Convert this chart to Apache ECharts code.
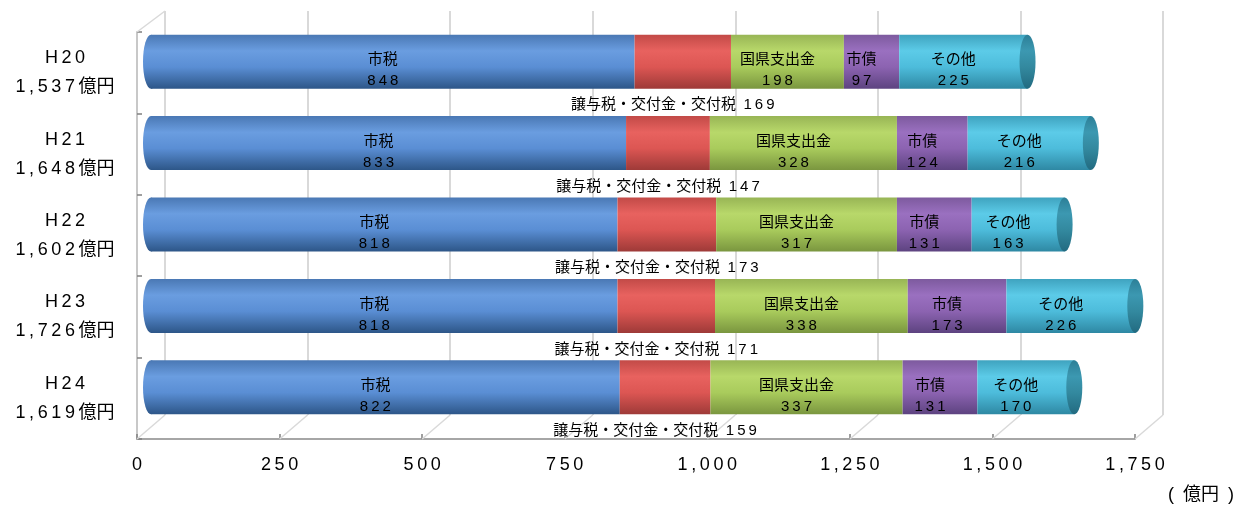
<!DOCTYPE html>
<html>
<head>
<meta charset="utf-8">
<script src="https://cdn.jsdelivr.net/npm/echarts@6/dist/echarts.min.js"></script>
<style>
  html, body { margin: 0; padding: 0; background: #fff; }
  #main { width: 1237px; height: 512px; }
</style>
</head>
<body>
<div id="main"></div>
<script>
var categories = ['H20', 'H21', 'H22', 'H23', 'H24'];
var shizei = [848, 833, 818, 818, 822];      // 市税
var jouyo = [169, 147, 173, 171, 159];       // 譲与税・交付金・交付税
var kokken = [198, 328, 317, 338, 337];      // 国県支出金
var shisai = [97, 124, 131, 173, 131];       // 市債
var sonota = [225, 216, 163, 226, 170];      // その他
var xTicks = [0, 250, 500, 750, 1000, 1250, 1500, 1750];

var FONT = "'Liberation Sans', 'Noto Sans CJK JP', sans-serif";

// letter spacing imitation with thin spaces
function spaced(s) {
    return String(s).split('').join('\u2009');
}
function fmt(n) {
    return n.toLocaleString('en-US');
}

var totals = categories.map(function (c, i) {
    return shizei[i] + jouyo[i] + kokken[i] + shisai[i] + sonota[i];
});

function cyl(top, light, mid, dark) {
    return {
        type: 'linear', x: 0, y: 0, x2: 0, y2: 1,
        colorStops: [
            { offset: 0, color: top },
            { offset: 0.3, color: light },
            { offset: 0.6, color: mid },
            { offset: 1, color: dark }
        ]
    };
}

var cBlue = cyl('#4a78b4', '#6a9de0', '#5a8ed4', '#2d5688');
var cRed = cyl('#c24a47', '#e8625f', '#dc5653', '#9e3a38');
var cGreen = cyl('#98b555', '#b8d86a', '#a9cb5c', '#7a963f');
var cPurple = cyl('#7d5a9e', '#9a70c0', '#8c63b1', '#5d4380');
var cCyan = cyl('#3fa3bf', '#5ccbe8', '#4dbcdb', '#2e88a3');
var cCap = cyl('#2c7f97', '#3c98b1', '#33899f', '#226a80');

function insideLabel(name) {
    return {
        show: true,
        position: 'inside',
        offset: [-10, 9],
        color: '#000',
        fontFamily: FONT,
        fontSize: 15,
        lineHeight: 21,
        formatter: function (p) {
            return name + '\n' + spaced(p.value);
        }
    };
}

function barSeries(name, data, color, label) {
    return {
        name: name,
        type: 'bar',
        stack: 'total',
        xAxisIndex: 2,
        yAxisIndex: 2,
        barWidth: 54,
        z: 3,
        itemStyle: { color: color },
        label: label,
        data: data
    };
}

var myChart = echarts.init(document.getElementById('main'));

var option = {
    animation: false,
    backgroundColor: '#fff',
    grid: [
        { left: 165, top: 11, width: 998, height: 404 },   // back wall
        { left: 137, top: 32, width: 998, height: 407 },   // front floor
        { left: 151, top: 21, width: 998, height: 407 }    // bars
    ],
    xAxis: [
        {
            gridIndex: 0, type: 'value', min: xTicks[0], max: xTicks[xTicks.length - 1],
            interval: xTicks[1] - xTicks[0],
            axisLine: { show: false }, axisTick: { show: false }, axisLabel: { show: false },
            splitLine: { show: true, lineStyle: { color: '#d9d9d9', width: 2 } }
        },
        {
            gridIndex: 1, type: 'value', min: xTicks[0], max: xTicks[xTicks.length - 1],
            interval: xTicks[1] - xTicks[0],
            axisLine: { show: true, lineStyle: { color: '#a6a6a6', width: 2 } },
            axisTick: { show: true, inside: true, length: 5, lineStyle: { color: '#808080', width: 1.5 } },
            splitLine: { show: false },
            axisLabel: {
                color: '#000', fontFamily: FONT, fontSize: 18, margin: 17,
                formatter: function (v) { return spaced(fmt(v)); }
            }
        },
        {
            gridIndex: 2, type: 'value', min: xTicks[0], max: xTicks[xTicks.length - 1],
            show: false, splitLine: { show: false }
        }
    ],
    yAxis: [
        { gridIndex: 0, type: 'category', data: categories, inverse: true, show: false },
        {
            gridIndex: 1, type: 'category', data: categories, inverse: true,
            axisLine: { show: true, lineStyle: { color: '#c8c8c8', width: 2 } },
            axisTick: { show: true, inside: true, length: 5, lineStyle: { color: '#808080', width: 1.5 } },
            axisLabel: {
                color: '#000', fontFamily: FONT, fontSize: 18, lineHeight: 29, margin: 72,
                align: 'center',
                formatter: function (v, i) {
                    return spaced(v) + '\n' + spaced(fmt(totals[i])) + '\u2009億円';
                }
            }
        },
        { gridIndex: 2, type: 'category', data: categories, inverse: true, show: false }
    ],
    series: [
        {
            type: 'custom',
            xAxisIndex: 1,
            yAxisIndex: 1,
            z: 1,
            silent: true,
            clip: false,
            encode: { x: 0, y: 1 },
            data: xTicks.map(function (t) { return [t, 0]; }),
            renderItem: function (params, api) {
                var cs = params.coordSys;
                var x = api.coord([api.value(0), 0])[0];
                var b = cs.y + cs.height;
                var kids = [{
                    type: 'line',
                    shape: { x1: x, y1: b, x2: x + 28, y2: b - 24 },
                    style: { stroke: '#d9d9d9', lineWidth: 1.5 }
                }];
                if (params.dataIndex === 0) {
                    kids.push({
                        type: 'line',
                        shape: { x1: cs.x, y1: cs.y, x2: cs.x + 28, y2: cs.y - 21 },
                        style: { stroke: '#d9d9d9', lineWidth: 1.5 }
                    });
                }
                return { type: 'group', children: kids };
            }
        },
        {
            // rounded left end of the cylinders
            type: 'scatter',
            xAxisIndex: 2,
            yAxisIndex: 2,
            z: 2,
            silent: true,
            symbol: 'circle',
            symbolSize: [16, 54],
            itemStyle: { color: cBlue, opacity: 1 },
            data: categories.map(function (c, i) { return [0, i]; })
        },
        barSeries('市税', shizei, cBlue, insideLabel('市税')),
        barSeries('譲与税・交付金・交付税', jouyo, cRed, {
            show: true,
            position: 'bottom',
            distance: 9,
            offset: [-10, 0],
            color: '#000',
            fontFamily: FONT,
            fontSize: 15,
            formatter: function (p) {
                return '譲与税・交付金・交付税\u2002' + spaced(p.value);
            }
        }),
        barSeries('国県支出金', kokken, cGreen, insideLabel('国県支出金')),
        barSeries('市債', shisai, cPurple, insideLabel('市債')),
        barSeries('その他', sonota, cCyan, insideLabel('その他')),
        {
            // end face of the cylinders
            type: 'scatter',
            xAxisIndex: 2,
            yAxisIndex: 2,
            z: 4,
            silent: true,
            symbol: 'circle',
            symbolSize: [16, 54],
            itemStyle: { color: cCap, opacity: 1 },
            data: totals.map(function (t, i) { return [t, i]; })
        }
    ],
    graphic: [{
        type: 'text',
        right: 3,
        top: 486,
        style: { text: '(\u2002億円\u2002)', font: '18px ' + FONT, fill: '#000' }
    }]
};
myChart.setOption(option);
</script>
</body>
</html>
